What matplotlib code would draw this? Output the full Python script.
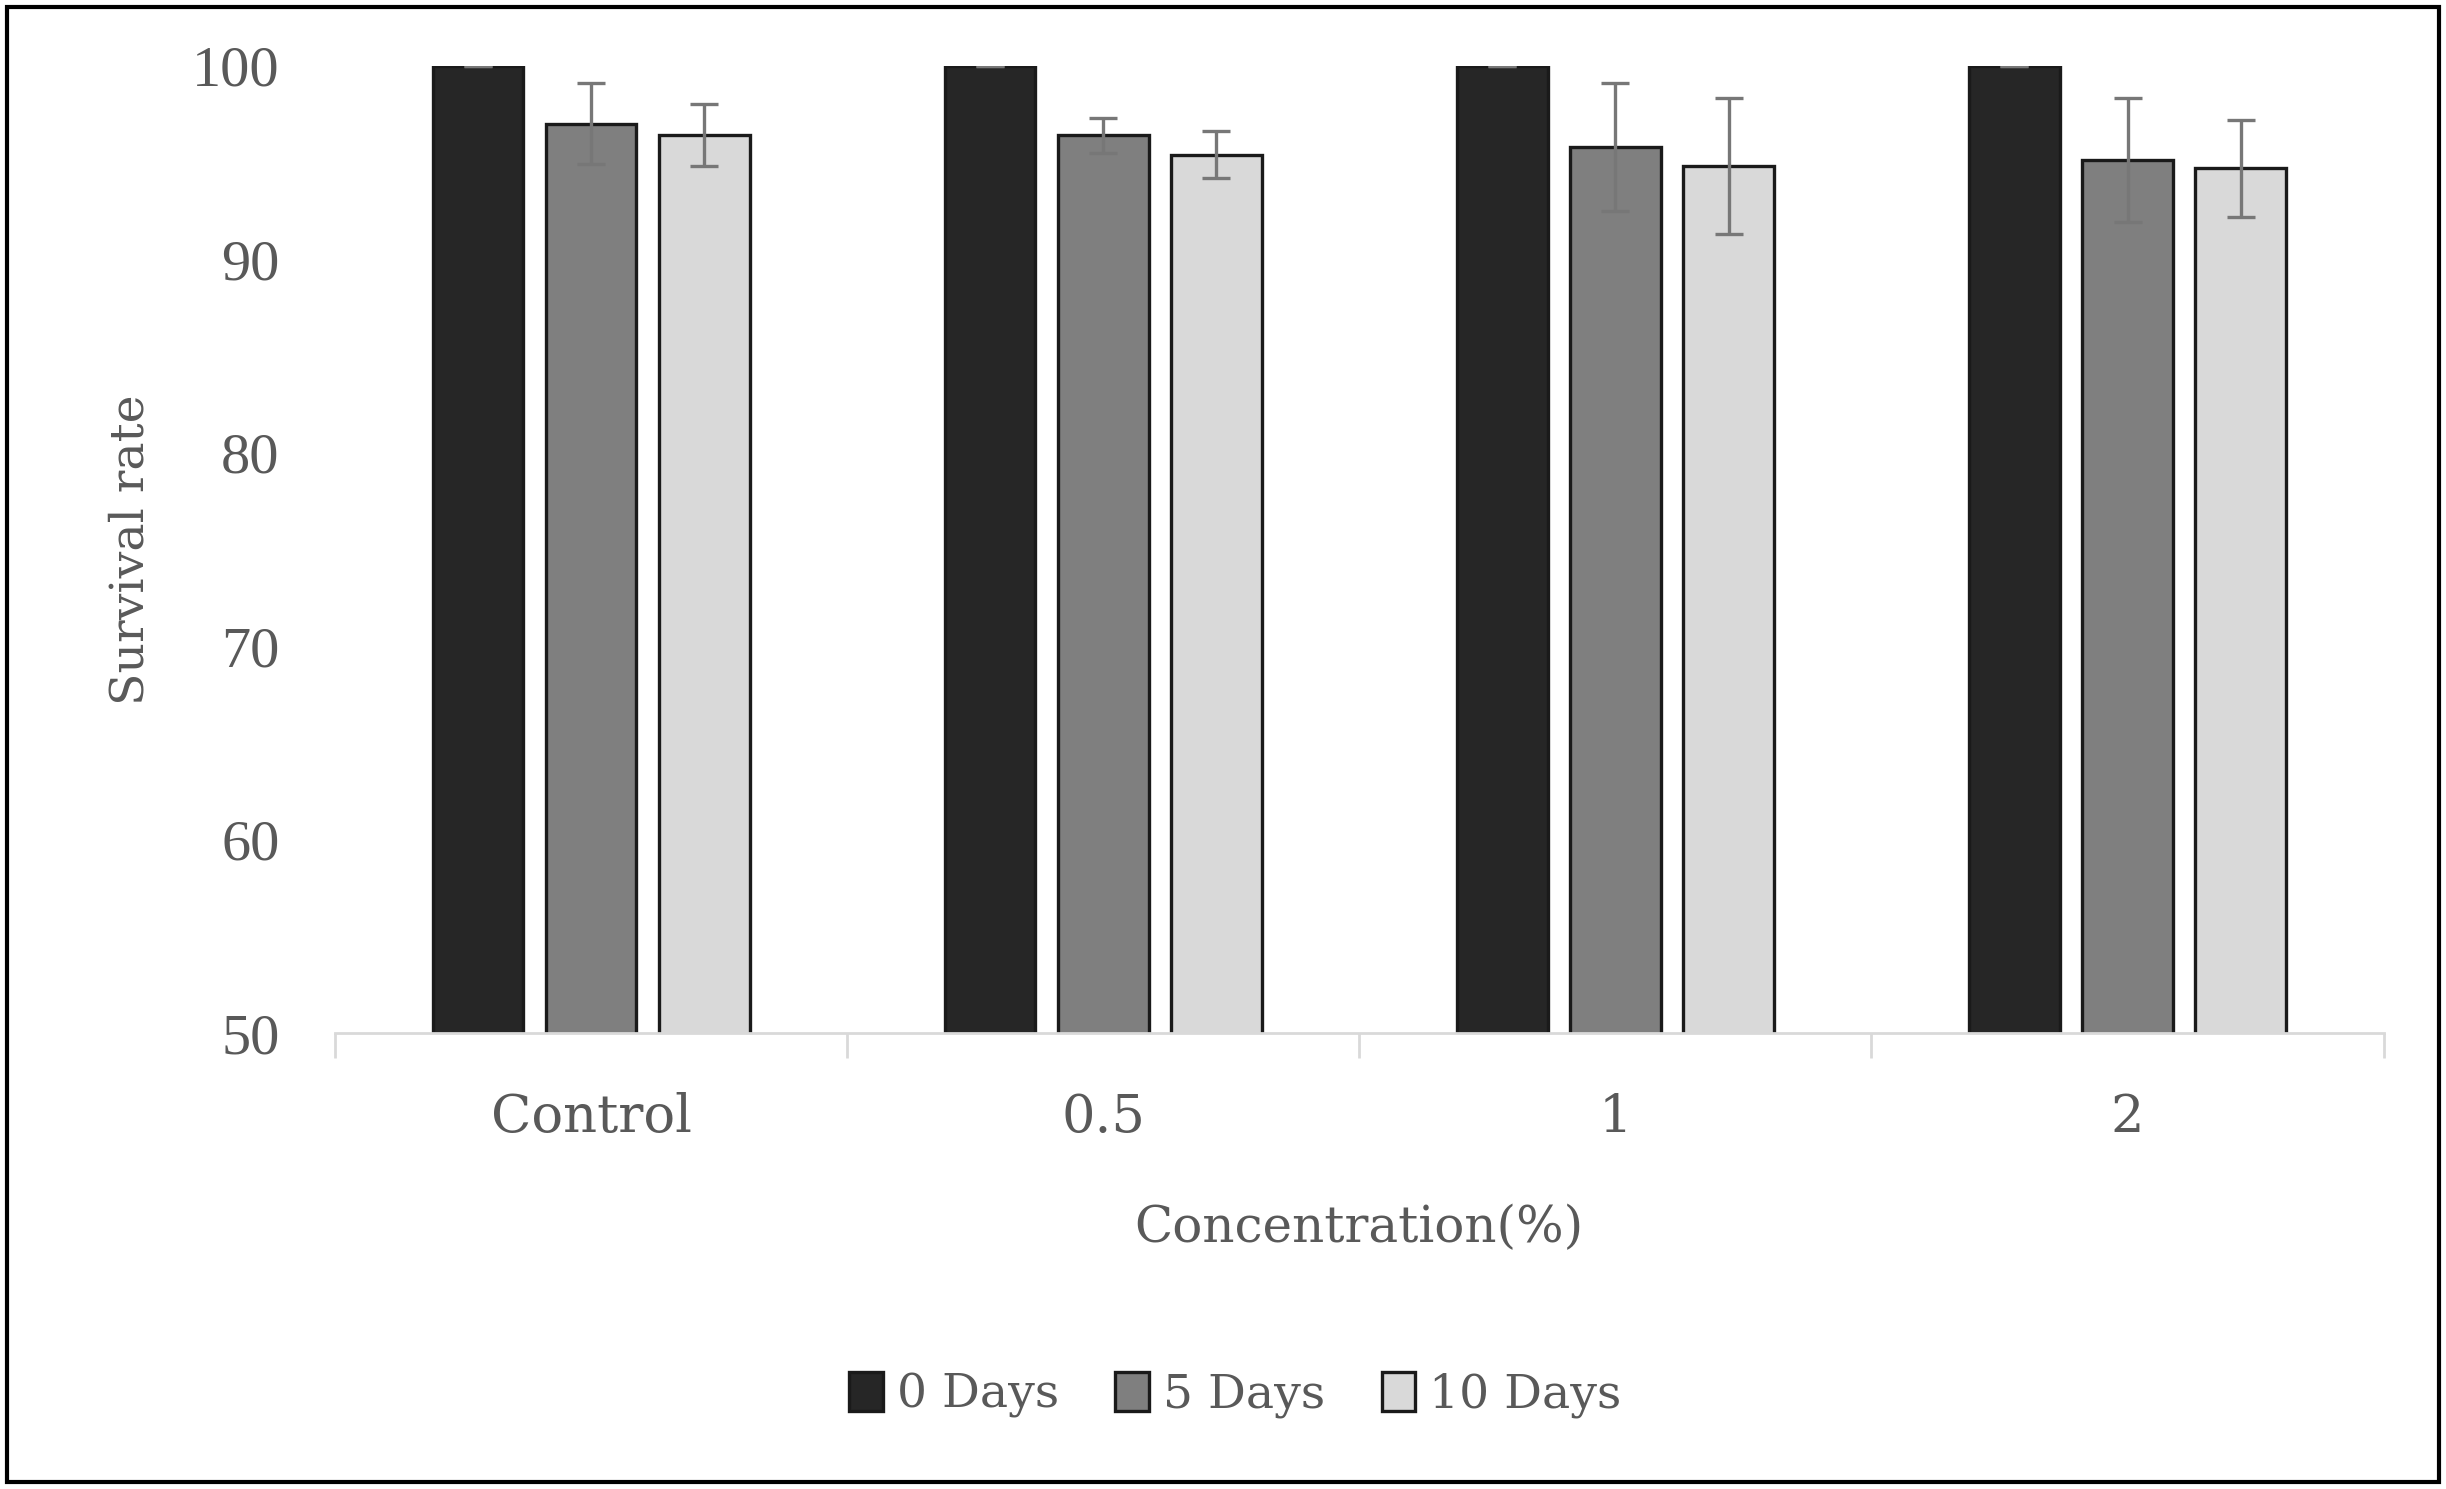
import matplotlib
matplotlib.use("Agg")
import matplotlib.pyplot as plt
import numpy as np
from matplotlib.patches import Rectangle

categories = ["Control", "0.5", "1", "2"]
series = ["0 Days", "5 Days", "10 Days"]
day0 = [100.0, 100.0, 100.0, 100.0]
day5 = [97.0, 96.4, 95.8, 95.1]
day10 = [96.4, 95.4, 94.8, 94.7]
err0 = [0.0, 0.0, 0.0, 0.0]
err5 = [2.1, 0.9, 3.3, 3.2]
err10 = [1.6, 1.2, 3.5, 2.5]

colors = ["#262626", "#7f7f7f", "#d9d9d9"]
txt = "#595959"
serif = ["DejaVu Serif", "Liberation Serif"]

plt.rcParams["font.family"] = serif

fig = plt.figure(figsize=(12.23, 7.445), dpi=200)
ax = fig.add_axes([0.137, 0.306, 0.8375, 0.65])

x = np.arange(len(categories))
offs = [-0.221, 0.0, 0.221]
w = 0.177
for vals, errs, c, lab, o in zip([day0, day5, day10], [err0, err5, err10], colors, series, offs):
    ax.bar(x + o, vals, w, color=c, edgecolor="#1a1a1a", linewidth=1.2, label=lab, zorder=2)
    ax.errorbar(x + o, vals, yerr=errs, fmt="none", ecolor="#777777", elinewidth=1.2,
                capsize=5, capthick=1.2, zorder=3)

ax.set_ylim(50, 100)
ax.set_xlim(-0.5, 3.5)
ax.set_yticks([50, 60, 70, 80, 90, 100])
ax.set_xticks(x)
ax.set_xticklabels(categories)
ax.set_xticks(np.arange(-0.5, 4.0, 1.0), minor=True)
ax.tick_params(axis="x", which="major", length=0, pad=21, labelsize=19, labelcolor=txt)
ax.tick_params(axis="x", which="minor", length=9, width=1, color="#d9d9d9")
ax.tick_params(axis="y", length=0, pad=20, labelsize=21, labelcolor=txt)
for t in ax.get_yticklabels():
    t.set_fontfamily(["Liberation Serif", "DejaVu Serif"])
for s in ["top", "right", "left"]:
    ax.spines[s].set_visible(False)
ax.spines["bottom"].set_color("#d9d9d9")
ax.spines["bottom"].set_linewidth(1)

ax.set_ylabel("Survival rate", fontsize=17, color=txt, labelpad=14)
ax.set_xlabel("Concentration(%)", fontsize=18, color=txt, labelpad=22)

leg = fig.legend(loc="center", bbox_to_anchor=(0.505, 0.063), ncol=3, frameon=False,
                 fontsize=17, handlelength=0.7, handleheight=0.9, handletextpad=0.3,
                 columnspacing=1.2, labelcolor=txt)

fig.patches.append(Rectangle((0.003, 0.005), 0.994, 0.99, transform=fig.transFigure,
                             fill=False, edgecolor="black", linewidth=1.5))

fig.savefig("out.png", dpi=200)
